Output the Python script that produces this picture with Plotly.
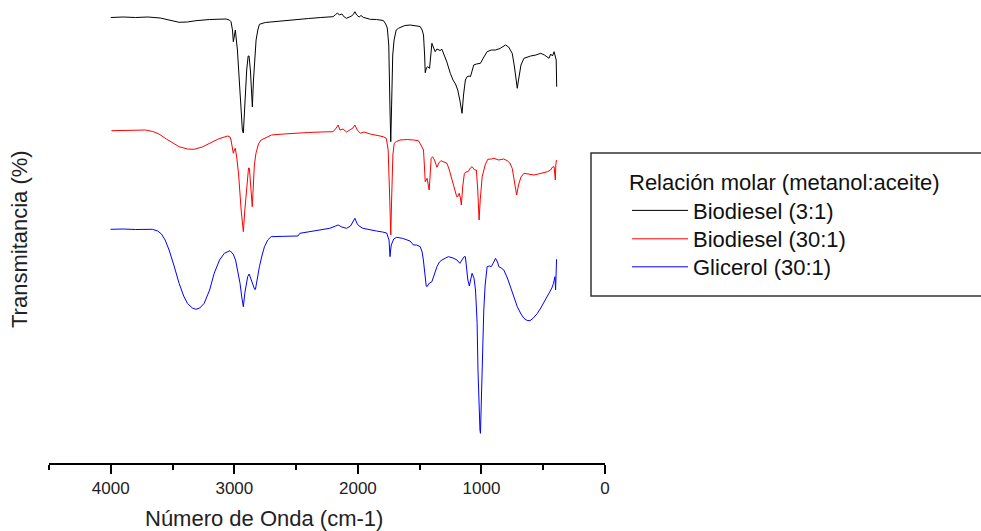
import plotly.graph_objects as go

# FTIR spectra, stacked with vertical offsets (transmittance, arbitrary units)
wn_biodiesel_3 = [4000, 3900, 3800, 3700, 3600, 3500, 3447, 3380, 3311, 3200, 3100, 3067, 3040, 3027,
                  3015, 3008, 3000, 2992, 2975, 2955, 2935, 2927, 2918, 2900, 2888, 2881, 2870, 2860,
                  2854, 2845, 2835, 2824, 2810, 2797, 2750, 2688, 2600, 2500, 2400, 2300, 2201, 2180,
                  2165, 2150, 2130, 2110, 2092, 2070, 2050, 2035, 2024, 2010, 1990, 1975, 1957, 1900,
                  1850, 1794, 1775, 1762, 1750, 1740, 1734, 1728, 1718, 1707, 1690, 1672, 1620, 1577,
                  1530, 1496, 1480, 1469, 1460, 1455, 1445, 1436, 1420, 1410, 1401, 1390, 1374, 1360,
                  1352, 1335, 1320, 1300, 1280, 1252, 1230, 1210, 1192, 1175, 1165, 1157, 1145, 1130,
                  1116, 1100, 1089, 1062, 1040, 1008, 980, 954, 920, 886, 850, 805, 780, 760, 751, 735,
                  720, 710, 700, 680, 656, 630, 602, 560, 520, 490, 465, 453, 440, 425, 412, 400, 395, 391]
t_biodiesel_3 = [445.5, 446, 445.5, 446, 445, 442.5, 440.7, 441, 442.3, 443.5, 444.2, 444, 443, 441.3,
                 433, 421.3, 427, 433, 413, 368, 333, 330, 353, 393, 407, 407, 393, 363,
                 356, 383, 408, 423, 433, 438.7, 440.5, 441.3, 442.5, 443.5, 444.5, 445.5, 446.3, 448.5,
                 450, 448, 449, 446, 444.7, 446, 447, 449, 451.3, 448, 446, 447.5, 445.7, 443.7,
                 443.5, 442.5, 439, 435, 418, 353, 321.3, 353, 408, 423, 433, 434.7, 437.5, 438,
                 437.5, 436.5, 433, 428, 408, 390.3, 395, 396.3, 394.7, 408, 419.7, 416, 411.3, 414,
                 413.7, 412.5, 413.7, 408, 401, 389.7, 383, 379, 373, 363, 353, 349.7, 368, 383,
                 386.3, 387, 386.3, 398, 399, 399.7, 406, 411.3, 413, 413, 414.5, 418, 416, 411, 409.7, 398,
                 381, 374.7, 383, 398, 404.7, 406, 407, 408, 409.7, 408, 406, 404.7, 409, 407, 411.3, 407, 403, 376.3]

wn_biodiesel_30 = [3995, 3900, 3800, 3718, 3660, 3610, 3550, 3500, 3447, 3380, 3325, 3260, 3203, 3130,
                   3054, 3035, 3027, 3015, 3008, 3000, 2992, 2980, 2965, 2945, 2927, 2915, 2895, 2885,
                   2878, 2866, 2855, 2848, 2838, 2825, 2805, 2783, 2700, 2600, 2500, 2400, 2300, 2201,
                   2175, 2160, 2145, 2120, 2092, 2060, 2040, 2024, 2005, 1980, 1950, 1900, 1850, 1794,
                   1770, 1755, 1742, 1734, 1727, 1717, 1706, 1690, 1659, 1600, 1550, 1510, 1490, 1469,
                   1460, 1455, 1440, 1430, 1423, 1415, 1407, 1395, 1380, 1360, 1345, 1328, 1300, 1279,
                   1260, 1238, 1215, 1200, 1192, 1180, 1170, 1163, 1150, 1138, 1125, 1108, 1090, 1076,
                   1055, 1041, 1030, 1024, 1019, 1010, 994, 970, 949, 920, 900, 860, 820, 791, 770, 751,
                   735, 722, 715, 700, 680, 656, 620, 575, 540, 500, 466, 440, 425, 412, 405, 402, 398, 393]
t_biodiesel_30 = [332.3, 332.5, 333, 333, 331.5, 329, 324, 320, 316.3, 314, 313.7, 316, 319.7, 324,
                  327, 326, 323, 315, 309.7, 313, 314.7, 305, 288, 253, 231.3, 253, 288, 295,
                  294.7, 278, 256.3, 273, 298, 309.7, 319, 323, 328, 329, 330, 330.5, 331, 331.3,
                  335, 338, 333, 334, 331, 333, 335, 338, 333, 329.7, 331, 329, 327.5, 326.3,
                  324.7, 313, 263, 228, 263, 308, 319.7, 321.3, 323, 323.5, 323, 322.3, 318, 313,
                  293, 281.3, 284.7, 278, 273, 288, 304.7, 306.3, 303, 295.7, 300, 302.3, 301, 299.7,
                  293, 283, 273, 266.3, 266.3, 269.7, 265, 258, 278, 289.7, 291, 291.3, 295, 296.3,
                  293, 293, 273, 253, 243, 263, 286.3, 298, 303.7, 304, 304.7, 303, 304, 302.3, 300, 294.7,
                  283, 271, 268, 278, 286, 289.7, 289, 288, 289, 290, 291.3, 293, 296, 296.3, 288, 283, 298, 303]

wn_glicerol_30 = [4002, 3900, 3800, 3700, 3664, 3620, 3590, 3560, 3528, 3490, 3447, 3410, 3380, 3340,
                  3311, 3280, 3244, 3200, 3163, 3120, 3081, 3035, 3010, 2990, 2970, 2954, 2940, 2927,
                  2915, 2900, 2892, 2880, 2865, 2850, 2836, 2829, 2815, 2797, 2775, 2756, 2730, 2702,
                  2600, 2485, 2470, 2400, 2300, 2228, 2180, 2160, 2130, 2092, 2060, 2040, 2024, 2005,
                  1990, 1960, 1900, 1850, 1800, 1767, 1748, 1740, 1735, 1730, 1710, 1686, 1640, 1600,
                  1578, 1550, 1525, 1495, 1480, 1470, 1458, 1447, 1442, 1420, 1401, 1380, 1360, 1340,
                  1320, 1290, 1266, 1230, 1198, 1175, 1160, 1140, 1130, 1118, 1110, 1098, 1090, 1076,
                  1060, 1048, 1040, 1035, 1028, 1019, 1012, 1008, 1003, 998, 990, 981, 970, 954, 935,
                  921, 900, 886, 870, 859, 840, 819, 790, 764, 740, 710, 680, 656, 630, 607, 580, 547,
                  520, 493, 470, 445, 430, 417, 405, 400, 396, 392]
t_glicerol_30 = [233.7, 234, 233.5, 233.7, 233.7, 232, 229, 223, 213, 198, 179.7, 167, 159.7, 155,
                 153.7, 155, 159.7, 173, 189.7, 203, 209.7, 212.3, 209, 203, 191, 179.7, 166, 156.3,
                 170, 183, 186.3, 189, 183, 178, 173.7, 173.7, 185, 196.3, 208, 216.3, 223, 226.3,
                 226.7, 227, 229.7, 231, 233, 234.7, 237, 238, 236, 234.7, 237, 241, 244.7, 239,
                 237, 234.7, 233, 232, 231, 230, 223, 206.3, 213, 218, 224, 225.7, 224.7, 223,
                 222, 218, 218, 216.3, 211, 203, 188, 177, 176.3, 180, 181.3, 189, 196.3, 201,
                 203, 205, 206.3, 205, 203, 199.7, 203, 206.3, 206.3, 193, 183, 177, 183, 189.7,
                 184.7, 173, 153, 139.7, 93, 39.7, 33, 29.7, 53, 79.7, 123, 153, 178, 196.3, 197,
                 196.3, 201, 204.7, 201, 196.3, 195, 193, 185, 176.3, 167, 156.3, 149, 144.7, 142.5, 142.3, 145, 149.7,
                 155, 161.3, 167, 171.3, 175, 179.7, 186.3, 173, 188, 203.7]

series_names = ["Biodiesel (3:1)", "Biodiesel (30:1)", "Glicerol (30:1)"]
series_colors = ["#000000", "#ff0000", "#0000ff"]
x_ticks = [4000, 3000, 2000, 1000, 0]
legend_title = "Relación molar (metanol:aceite)"

FONT = "Liberation Sans, Arial, sans-serif"

W, H = 981, 531
ml, mr, mt, mb = 49, 376, 0, 68
pw, ph = W - ml - mr, H - mt - mb


def px_x(p):
    return (p - ml) / pw


def px_y(p):
    return (H - mb - p) / ph


# one legend per series so the entries can sit on a tighter pitch
legend_refs = ["legend", "legend2", "legend3"]
legend_tops = [161, 218, 246]

fig = go.Figure()
for name, color, xs, ys, lg in zip(series_names, series_colors,
                                   [wn_biodiesel_3, wn_biodiesel_30, wn_glicerol_30],
                                   [t_biodiesel_3, t_biodiesel_30, t_glicerol_30],
                                   legend_refs):
    fig.add_trace(go.Scatter(x=xs, y=ys, mode="lines", name=name, legend=lg,
                             line=dict(color=color, width=1)))

legend_common = dict(font=dict(size=22, family=FONT, color="#111111"), x=px_x(627),
                     xanchor="left", yanchor="top", bgcolor="rgba(0,0,0,0)",
                     borderwidth=0, itemwidth=56, tracegroupgap=0)

fig.update_layout(
    width=W, height=H,
    margin=dict(l=ml, r=mr, t=mt, b=mb, pad=0),
    paper_bgcolor="white", plot_bgcolor="white",
    font=dict(family=FONT, color="#000000"),
    xaxis=dict(range=[4500, 0], showline=True, linecolor="#000000", linewidth=2,
               tickmode="array", tickvals=x_ticks, ticks="outside", ticklen=9,
               tickwidth=2, tickcolor="#000000", tickfont=dict(size=17, color="#222222"),
               showgrid=False, zeroline=False,
               minor=dict(dtick=500, tick0=0, ticks="outside", ticklen=5,
                          tickwidth=2, tickcolor="#000000", showgrid=False)),
    yaxis=dict(range=[0, 463], visible=False),
    showlegend=True,
    legend=dict(title=dict(text=legend_title, font=dict(size=22, family=FONT, color="#111111")),
                y=px_y(legend_tops[0]), **legend_common),
    legend2=dict(y=px_y(legend_tops[1]), **legend_common),
    legend3=dict(y=px_y(legend_tops[2]), **legend_common),
    shapes=[dict(type="rect", xref="paper", yref="paper",
                 x0=px_x(591), x1=px_x(995), y0=px_y(296), y1=px_y(153),
                 line=dict(color="#333333", width=1.5), fillcolor="rgba(0,0,0,0)")],
    annotations=[
        dict(text="Número de Onda (cm-1)", xref="paper", yref="paper",
             x=px_x(264), y=px_y(518), xanchor="center", yanchor="middle",
             showarrow=False, font=dict(size=22, family=FONT, color="#222222")),
        dict(text="Transmitancia (%)", xref="paper", yref="paper", textangle=-90,
             x=px_x(19), y=px_y(239), xanchor="center", yanchor="middle",
             showarrow=False, font=dict(size=22, family=FONT, color="#222222")),
    ],
)

fig.write_html("out.html")
